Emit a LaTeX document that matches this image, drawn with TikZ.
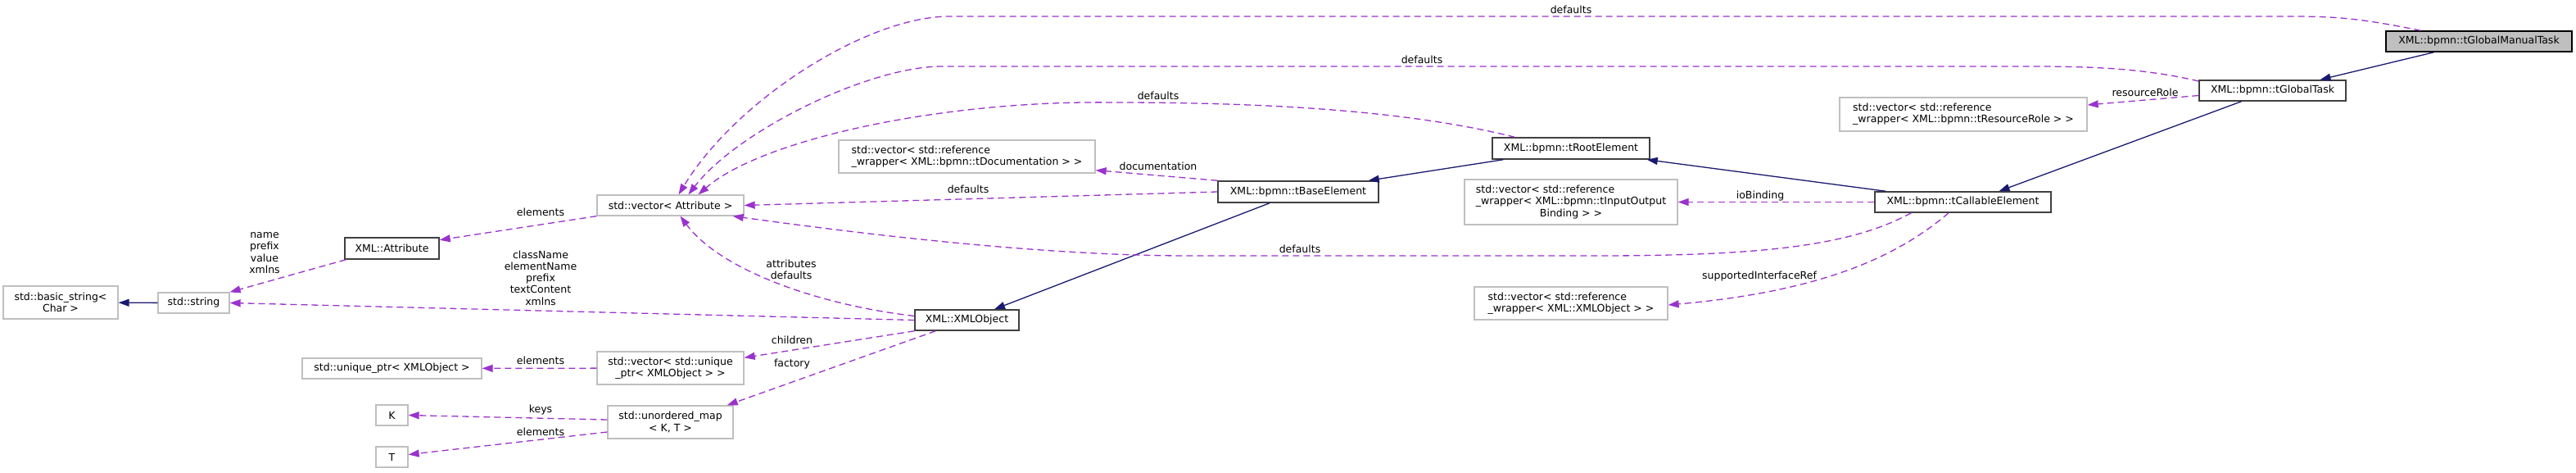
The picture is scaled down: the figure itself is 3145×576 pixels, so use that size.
\documentclass[tikz,border=0pt]{standalone}
\usepackage{fontspec}
\setmainfont{DejaVu Sans}
\usetikzlibrary{arrows.meta,calc}

\definecolor{inheritblue}{HTML}{191970}
\definecolor{memberpurple}{HTML}{9A32CD}
\definecolor{undocgrey}{HTML}{BFBFBF}
\definecolor{docgrey}{HTML}{404040}
\newcommand{\dxfont}{\fontsize{12.5pt}{14.3pt}\selectfont}
\newlength{\ioLineWidth}
\newcommand{\ioLastLine}{\makebox[\ioLineWidth][c]{Binding > >}}

\begin{document}
\settowidth{\ioLineWidth}{\dxfont\_wrapper< XML::bpmn::tInputOutput}%
\begin{tikzpicture}[
      x=1pt, y=-1pt,
      entity/.style={draw=undocgrey, line width=1.3pt, fill=white, inner sep=2pt,
        minimum height=25pt, align=center, font=\dxfont},
      documented/.style={entity, draw=docgrey, line width=1.5pt},
      current/.style={documented, draw=black, fill=undocgrey},
      inherit/.style={-{Triangle[length=13pt,width=9pt]}, line width=1.3pt, draw=inheritblue},
      member/.style={-{Triangle[length=13pt,width=9pt]}, line width=1.3pt, draw=memberpurple,
        dash pattern=on 8pt off 5pt},
      edgelabel/.style={inner sep=0pt, align=center, font=\dxfont}
    ]
    \useasboundingbox (0,0) rectangle (3145,576);

    \node[entity, minimum width=140pt, minimum height=40pt] (basicString) at (74,369)
      {std::basic\_string<\\Char >};
    \node[entity, minimum width=87pt] (stdString) at (236.5,369.5) {std::string};
    \node[entity, minimum width=219pt] (uniquePtr) at (478.5,449.5) {std::unique\_ptr< XMLObject >};
    \node[entity, minimum width=39pt] (keyK) at (478.5,506.5) {K};
    \node[entity, minimum width=39pt] (valueT) at (478.5,557.5) {T};
    \node[documented, minimum width=115pt, minimum height=26pt] (xmlAttribute) at (478.5,303)
      {XML::Attribute};

    \node[entity, minimum width=179pt] (attrVector) at (818.5,250.5) {std::vector< Attribute >};
    \node[entity, minimum width=179pt, minimum height=40pt] (childVector) at (818.5,449)
      {std::vector< std::unique\\\_ptr< XMLObject > >};
    \node[entity, minimum width=153pt, minimum height=40pt] (unorderedMap) at (818.5,515)
      {std::unordered\_map\\< K, T >};

    \node[documented, minimum width=127pt] (xmlObject) at (1180.5,390.5) {XML::XMLObject};
    \node[entity, minimum width=313pt, minimum height=40pt, align=left] (docVector) at (1180.5,191)
      {std::vector< std::reference\\\_wrapper< XML::bpmn::tDocumentation > >};
    \node[documented, minimum width=196pt, minimum height=26pt] (baseElement) at (1585,234)
      {XML::bpmn::tBaseElement};

    \node[documented, minimum width=192pt, minimum height=26pt] (rootElement) at (1918,181)
      {XML::bpmn::tRootElement};
    \node[entity, minimum width=260pt, minimum height=55pt, align=left] (ioBindingVector) at (1918,246.5)
      {std::vector< std::reference\\\_wrapper< XML::bpmn::tInputOutput\\\ioLastLine};
    \node[entity, minimum width=236pt, minimum height=40pt, align=left] (interfaceVector) at (1918,370)
      {std::vector< std::reference\\\_wrapper< XML::XMLObject > >};

    \node[documented, minimum width=215pt] (callableElement) at (2396.5,246.5)
      {XML::bpmn::tCallableElement};
    \node[entity, minimum width=302pt, minimum height=41pt, align=left] (resourceVector) at (2397,139.5)
      {std::vector< std::reference\\\_wrapper< XML::bpmn::tResourceRole > >};
    \node[documented, minimum width=179pt] (globalTask) at (2774.5,110.5) {XML::bpmn::tGlobalTask};
    \node[current, minimum width=227pt] (globalManualTask) at (3026.5,50.5)
      {XML::bpmn::tGlobalManualTask};

    % inheritance
    \draw[inherit] (stdString) -- (basicString);
    \draw[inherit] ($(globalManualTask.south)+(-55,0)$) -- ($(globalTask.north)+(58,0)$);
    \draw[inherit] ($(globalTask.south)+(-38,0)$) -- ($(callableElement.north)+(44,0)$);
    \draw[inherit] ($(callableElement.north west)+(14,0)$) -- ($(rootElement.south east)+(-4,0)$);
    \draw[inherit] ($(rootElement.south west)+(14,0)$) -- ($(baseElement.north east)+(-13,0)$);
    \draw[inherit] ($(baseElement.south)+(-35,0)$) -- ($(xmlObject.north)+(33.5,0)$);

    % members
    \draw[member] ($(xmlAttribute.south west)+(2,0)$) -- (stdString.north east);
    \draw[member] (attrVector.south west) -- (xmlAttribute.10);
    \draw[member] (xmlObject.west) -- (stdString.east);
    \draw[member] ($(xmlObject.west)+(0,-5)$) .. controls (1000,372) and (880,330)
      .. ($(attrVector.south)+(12,0)$);
    \draw[member] (xmlObject.south west) -- (childVector.8);
    \draw[member] ($(xmlObject.south west)+(26,0)$) -- ($(unorderedMap.north east)+(-8,0)$);
    \draw[member] (childVector) -- (uniquePtr);
    \draw[member] ($(unorderedMap.west)+(0,-3)$) -- (keyK.east);
    \draw[member] ($(unorderedMap.west)+(0,12)$) -- ($(valueT.east)+(0,-3)$);
    \draw[member] (baseElement.west) -- (attrVector.east);
    \draw[member] (baseElement.north west) -- ($(docVector.south east)+(0,-4)$);
    \draw[member] ($(rootElement.north west)+(28,0)$) .. controls (1700,130) and (1500,125)
      .. (1360,125) .. controls (1150,122) and (930,170) .. ($(attrVector.north)+(34,0)$);
    \draw[member] ($(globalTask.west)+(0,-11.5)$) .. controls (2620,84) and (2560,81) .. (2480,81)
      -- (1150,81) .. controls (1060,81) and (900,160) .. ($(attrVector.north)+(22,0)$);
    \draw[member] ($(globalManualTask.north west)+(43,0)$) .. controls (2880,22) and (2850,20) .. (2797,20)
      -- (1159,20) .. controls (1060,20) and (900,120) .. ($(attrVector.north)+(10,0)$);
    \draw[member] ($(globalTask.west)+(0,6)$) -- ($(resourceVector.east)+(0,-11.5)$);
    \draw[member] (callableElement) -- (ioBindingVector);
    \draw[member] ($(callableElement.south west)+(45,0)$) .. controls (2260,300) and (2150,312) .. (1950,312)
      -- (1450,312) .. controls (1250,312) and (1000,278) .. ($(attrVector.south east)+(-14,0)$);
    \draw[member] ($(callableElement.south)+(-17.5,0)$) .. controls (2320,310) and (2230,355)
      .. ($(interfaceVector.east)+(0,2)$);

    % edge labels
    \node[edgelabel] (lblStringMembers) at (323,308.5) {name\\prefix\\value\\xmlns};
    \node[edgelabel] (lblAttrElements) at (660,259) {elements};
    \node[edgelabel] (lblObjectStrings) at (660,339) {className\\elementName\\prefix\\textContent\\xmlns};
    \node[edgelabel] (lblObjectAttrs) at (966,329) {attributes\\defaults};
    \node[edgelabel] (lblChildren) at (967,415) {children};
    \node[edgelabel] (lblFactory) at (967,444) {factory};
    \node[edgelabel] (lblPtrElements) at (660,440) {elements};
    \node[edgelabel] (lblKeys) at (660,500) {keys};
    \node[edgelabel] (lblMapElements) at (660,527) {elements};
    \node[edgelabel] (lblBaseDefaults) at (1182,231) {defaults};
    \node[edgelabel] (lblDocumentation) at (1414,203) {documentation};
    \node[edgelabel] (lblRootDefaults) at (1414,117) {defaults};
    \node[edgelabel] (lblTaskDefaults) at (1736,73) {defaults};
    \node[edgelabel] (lblManualDefaults) at (1918,12) {defaults};
    \node[edgelabel] (lblResourceRole) at (2619,113) {resourceRole};
    \node[edgelabel] (lblIoBinding) at (2149,239) {ioBinding};
    \node[edgelabel] (lblCallableDefaults) at (1587,304) {defaults};
    \node[edgelabel] (lblInterfaceRef) at (2148,337) {supportedInterfaceRef};
  \end{tikzpicture}
\end{document}
